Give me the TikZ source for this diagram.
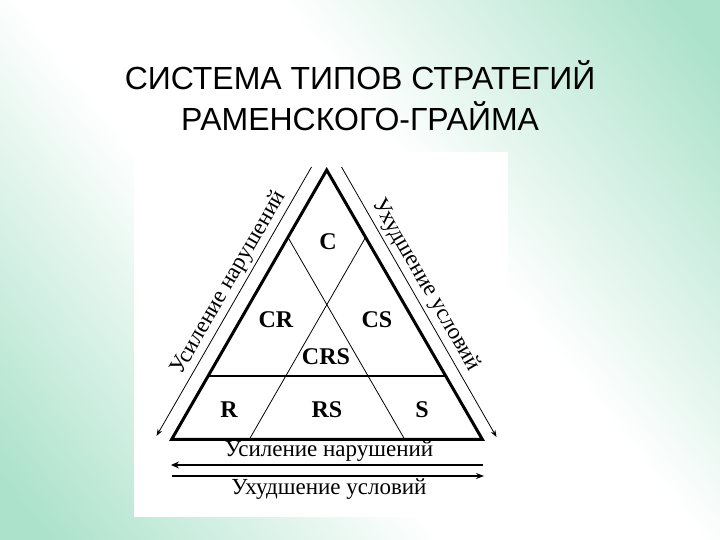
\documentclass[tikz,border=0pt]{standalone}
\usepackage{fontspec}
\setmainfont{Liberation Serif}
\newfontfamily\titlefont{Liberation Sans}
\usetikzlibrary{arrows.meta,calc}

\definecolor{slidegreen}{RGB}{172,226,203}
\pgfdeclareverticalshading{slidebg}{100bp}{color(0bp)=(slidegreen); color(18bp)=(slidegreen); color(42bp)=(white); color(58bp)=(white); color(82bp)=(slidegreen); color(100bp)=(slidegreen)}

\begin{document}
\begin{tikzpicture}[x=1pt, y=-1pt,
		side/.style={line width=3pt, line cap=round, line join=miter},
		region/.style={font=\fontsize{24}{28}\selectfont\bfseries},
		axislbl/.style={font=\fontsize{23}{26}\selectfont},
		trend/.style={line width=0.8pt, -{Stealth[length=7pt, width=5pt]}}]
	\useasboundingbox (0, 0) rectangle (720, 540);
	\shade[shading=slidebg, shading angle=-52] (0, 0) rectangle (720, 540);
	\fill[white] (134, 152) rectangle (508, 517);

	\draw (360, 96) node[font=\titlefont\fontsize{32}{41}\selectfont, align=center] (title) {СИСТЕМА ТИПОВ СТРАТЕГИЙ\\РАМЕНСКОГО-ГРАЙМА};

	\coordinate (apex) at (326.7, 170);
	\coordinate (bl) at (171.7, 439.3);
	\coordinate (br) at (482.3, 439.3);
	\coordinate (midl) at ($(bl)!0.235!(apex)$);
	\coordinate (midr) at ($(br)!0.235!(apex)$);
	\coordinate (upl) at ($(bl)!0.75!(apex)$);
	\coordinate (upr) at ($(br)!0.75!(apex)$);
	\coordinate (basel) at ($(bl)!0.25!(br)$);
	\coordinate (baser) at ($(bl)!0.75!(br)$);

	\draw[side] (bl) -- (apex) -- (br) -- cycle;
	\draw[line width=1.8pt] (midl) -- (midr);
	\draw[line width=0.8pt] (upl) -- (baser);
	\draw[line width=0.8pt] (upr) -- (basel);

	\draw (328, 242) 	node[region] (c) 	{C};
	\draw (276, 320) 	node[region] (cr) 	{CR};
	\draw (377, 320) 	node[region] (cs) 	{CS};
	\draw (326, 357) 	node[region] (crs) 	{CRS};
	\draw (229, 410) 	node[region] (r) 	{R};
	\draw (327, 410) 	node[region] (rs) 	{RS};
	\draw (422, 410) 	node[region] (s) 	{S};

	% arrows along the sides
	\coordinate (ltop) at (311.5, 167);
	\coordinate (lbot) at (156.5, 436);
	\coordinate (rtop) at (341.5, 167);
	\coordinate (rbot) at (496.5, 437);
	\draw[trend] (ltop) -- (lbot);
	\draw[trend] (rtop) -- (rbot);
	\draw (229, 283) node[axislbl, rotate=60] (lefttxt) {Усиление нарушений};
	\draw (426, 285) node[axislbl, rotate=-60] (righttxt) {Ухудшение условий};

	% arrows under the base
	\coordinate (b1r) at (483, 465);
	\coordinate (b1l) at (171, 465);
	\coordinate (b2l) at (172, 476);
	\coordinate (b2r) at (484, 476);
	\draw[line width=2.2pt, -{Stealth[length=8pt, width=7pt]}] (b1r) -- (b1l);
	\draw[line width=1.2pt, -{Stealth[length=8pt, width=6pt]}] (b2l) -- (b2r);
	\draw (329, 451) node[axislbl] (bottxt1) {Усиление нарушений};
	\draw (329, 489) node[axislbl] (bottxt2) {Ухудшение условий};
\end{tikzpicture}
\end{document}
